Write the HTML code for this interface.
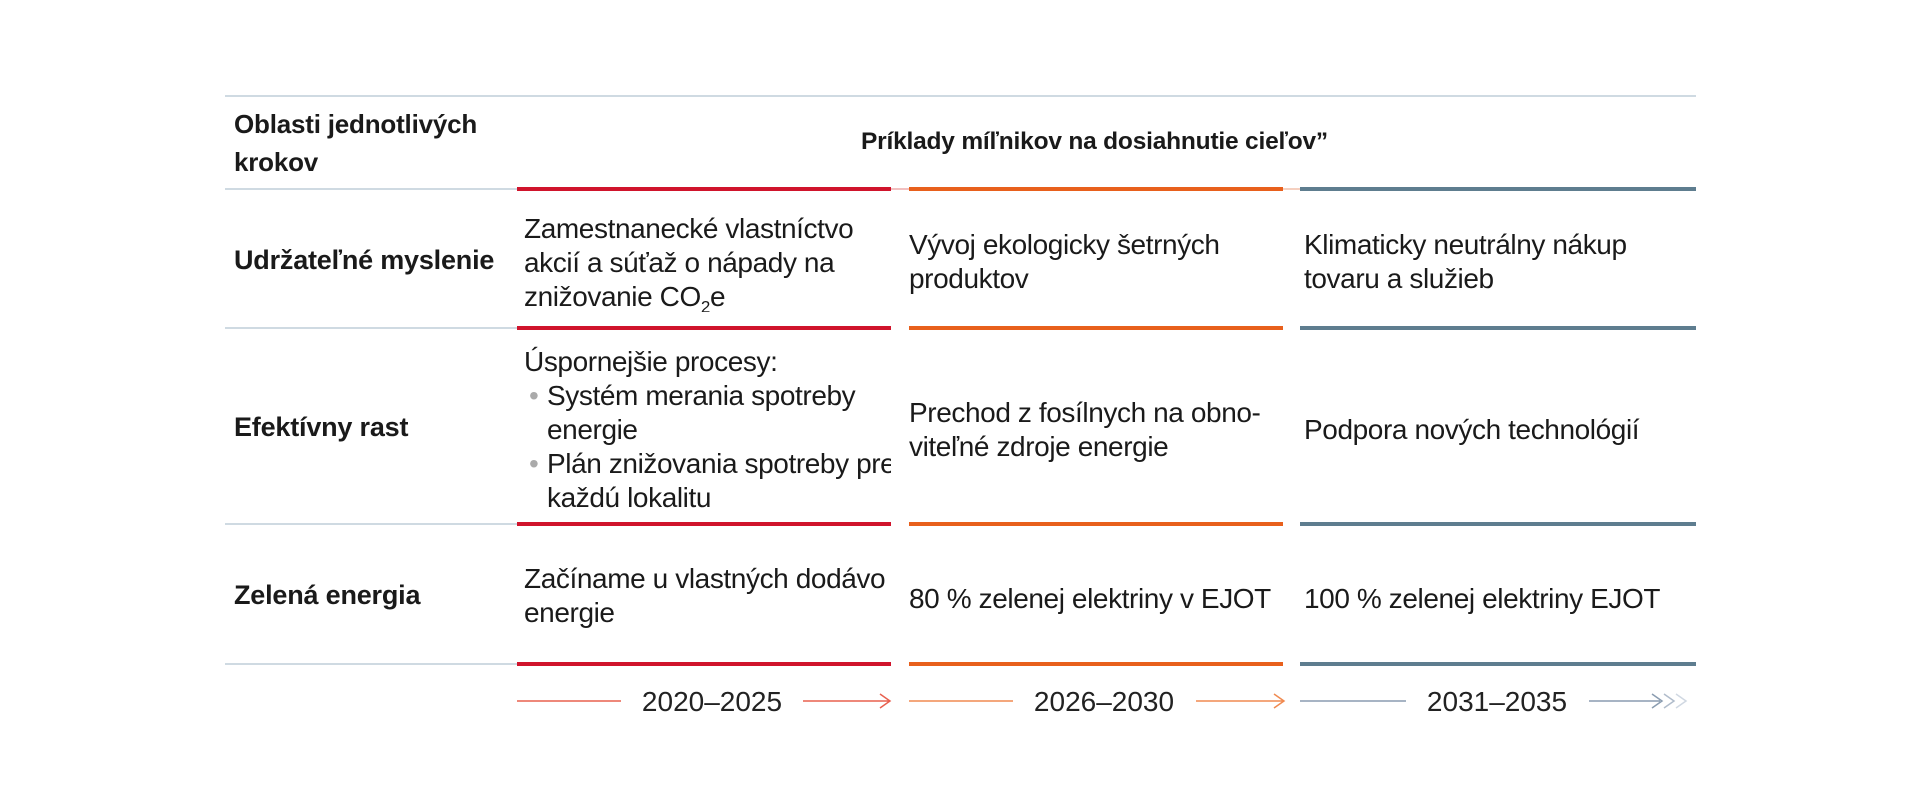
<!DOCTYPE html>
<html><head><meta charset="utf-8"><style>
body{margin:0;width:1920px;height:800px;background:#fff;position:relative;overflow:hidden;font-family:"Liberation Sans",sans-serif;color:#1a1a1a}
.a{position:absolute;white-space:nowrap}
.t{font-size:28px;line-height:34px;letter-spacing:-0.4px}
.b{font-weight:bold;font-size:26px;line-height:38px;letter-spacing:-0.2px}
.g{position:absolute;height:2px;background:#cfdae2}
.c{position:absolute;height:4px}
.r{background:#d0142c}.o{background:#e8601c}.s{background:#5e7d8f}
.clip{position:absolute;overflow:hidden}
.bul{color:#aaa;position:absolute;left:-18px}
</style></head><body>
<div class="g" style="left:225px;width:1471px;top:95px"></div>
<div class="g" style="left:225px;width:292px;top:188px"></div>
<div class="g" style="left:225px;width:292px;top:327px"></div>
<div class="g" style="left:225px;width:292px;top:523px"></div>
<div class="g" style="left:225px;width:292px;top:663px"></div>
<div class="g" style="left:891px;width:18px;top:188px;background:#f2c0c0"></div>
<div class="g" style="left:1283px;width:17px;top:188px;background:#f5d0c0"></div>

<div class="c r" style="left:517px;width:374px;top:187px"></div>
<div class="c o" style="left:909px;width:374px;top:187px"></div>
<div class="c s" style="left:1300px;width:396px;top:187px"></div>
<div class="c r" style="left:517px;width:374px;top:326px"></div>
<div class="c o" style="left:909px;width:374px;top:326px"></div>
<div class="c s" style="left:1300px;width:396px;top:326px"></div>
<div class="c r" style="left:517px;width:374px;top:522px"></div>
<div class="c o" style="left:909px;width:374px;top:522px"></div>
<div class="c s" style="left:1300px;width:396px;top:522px"></div>
<div class="c r" style="left:517px;width:374px;top:662px"></div>
<div class="c o" style="left:909px;width:374px;top:662px"></div>
<div class="c s" style="left:1300px;width:396px;top:662px"></div>

<div class="a b" style="left:234px;top:105px">Oblasti jednotlivých<br>krokov</div>
<div class="a b" style="left:861px;top:123px;font-size:24.5px">Príklady míľnikov na dosiahnutie cieľov”</div>

<div class="a b" style="left:234px;top:241px;font-size:27px">Udržateľné myslenie</div>
<div class="a b" style="left:234px;top:408px;font-size:27px">Efektívny rast</div>
<div class="a b" style="left:234px;top:576px;font-size:27px">Zelená energia</div>

<div class="clip t" style="left:524px;top:212px;width:367px;height:100px">Zamestnanecké vlastníctvo<br>akcií a súťaž o nápady na<br>znižovanie CO<sub style="font-size:17px;line-height:0">2</sub>e</div>
<div class="a t" style="left:909px;top:228px">Vývoj ekologicky šetrných<br>produktov</div>
<div class="a t" style="left:1304px;top:228px">Klimaticky neutrálny nákup<br>tovaru a služieb</div>

<div class="clip t" style="left:524px;top:345px;width:367px;height:175px">Úspornejšie procesy:
<div style="position:relative;left:23px"><span class="bul">•</span>Systém merania spotreby<br>energie</div>
<div style="position:relative;left:23px;white-space:nowrap"><span class="bul">•</span>Plán znižovania spotreby pre<br>každú lokalitu</div></div>
<div class="a t" style="left:909px;top:396px">Prechod z fosílnych na obno-<br>viteľné zdroje energie</div>
<div class="a t" style="left:1304px;top:413px">Podpora nových technológií</div>

<div class="clip t" style="left:524px;top:562px;width:367px;height:72px;white-space:nowrap">Začíname u vlastných dodávo<br>energie</div>
<div class="a t" style="left:909px;top:582px">80 % zelenej elektriny v EJOT</div>
<div class="a t" style="left:1304px;top:582px">100 % zelenej elektriny EJOT</div>

<svg class="a" style="left:0;top:0" width="1920" height="800">
<g fill="none" stroke-width="1.5">
<path d="M517 701H621M803 701H889M880 694L890 701L880 708" stroke="#e8604f"/>
<path d="M909 701H1013M1196 701H1283M1274 694L1284 701L1274 708" stroke="#f08a50"/>
<path d="M1300 701H1406M1589 701H1660M1652 694L1662 701L1652 708" stroke="#8a9cb0"/>
<path d="M1664 694L1674 701L1664 708" stroke="#b0bccb"/>
<path d="M1676 694L1686 701L1676 708" stroke="#d0d8e2"/>
</g>
<g font-family="Liberation Sans" font-size="28" fill="#222" text-anchor="middle">
<text x="712" y="711">2020–2025</text>
<text x="1104" y="711">2026–2030</text>
<text x="1497" y="711">2031–2035</text>
</g>
</svg>
</body></html>
